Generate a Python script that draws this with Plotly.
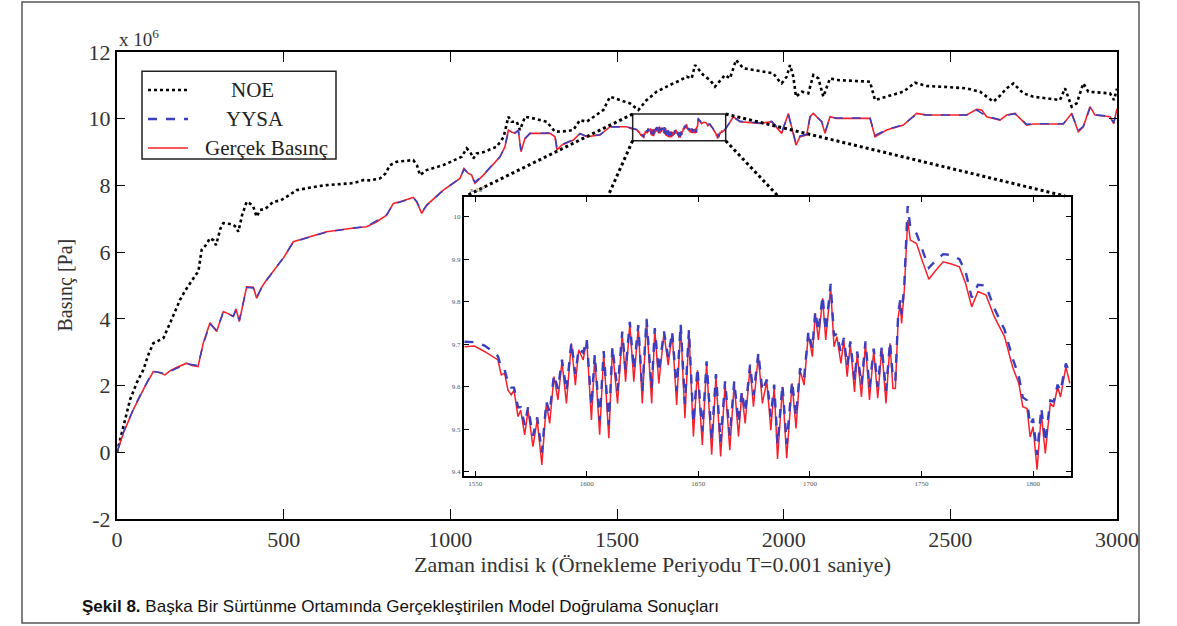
import plotly.graph_objects as go

# ---------------- data (pressure in units of 1e6 Pa) ----------------
noe_x = [0, 20, 39, 60, 79, 95, 109, 125, 139, 159, 175, 189, 205, 219, 235, 244, 254, 266, 279, 290,
         297, 310, 319, 335, 349, 357, 364, 375, 389, 400, 409, 419, 429, 445, 469, 490, 509, 539, 570,
         600, 629, 660, 699, 720, 739, 760, 789, 805, 819, 839, 860, 889, 900, 909, 929, 950, 979, 1010,
         1034, 1049, 1060, 1069, 1079, 1100, 1139, 1160, 1174, 1184, 1199, 1209, 1224, 1249, 1289, 1314,
         1340, 1369, 1389, 1409, 1439, 1459, 1479, 1509, 1539, 1564, 1589, 1619, 1645, 1669, 1690, 1709,
         1724, 1734, 1759, 1780, 1794, 1810, 1824, 1839, 1857, 1879, 1920, 1949, 1969, 1984, 1994, 2009,
         2019, 2029, 2037, 2054, 2074, 2089, 2104, 2119, 2139, 2159, 2210, 2259, 2274, 2309, 2359, 2394,
         2429, 2490, 2549, 2589, 2629, 2650, 2669, 2689, 2719, 2749, 2790, 2829, 2844, 2864, 2879, 2899,
         2914, 2950, 2979, 2991, 3000]
noe_y = [0, 0.8, 1.57, 2.1, 2.47, 2.95, 3.27, 3.35, 3.42, 3.87, 4.25, 4.57, 4.85, 5.07, 5.3, 5.42, 6.07,
         6.2, 6.42, 6.35, 6.21, 6.7, 6.87, 6.85, 6.82, 6.75, 6.61, 7.1, 7.51, 7.45, 7.36, 7.06, 7.26, 7.3,
         7.51, 7.55, 7.66, 7.86, 7.92, 7.97, 8.01, 8.03, 8.06, 8.1, 8.16, 8.15, 8.21, 8.35, 8.61, 8.71,
         8.73, 8.76, 8.6, 8.31, 8.46, 8.52, 8.61, 8.75, 8.86, 9.11, 9.0, 8.81, 8.96, 9.0, 9.16, 9.45,
         10.06, 9.91, 9.91, 9.66, 10.06, 10.01, 9.91, 9.61, 9.62, 9.66, 9.96, 9.91, 10.11, 10.26, 10.66,
         10.56, 10.46, 10.26, 10.56, 10.81, 10.95, 11.06, 11.15, 11.26, 11.21, 11.61, 11.31, 11.15, 10.96,
         11.15, 11.31, 11.21, 11.76, 11.51, 11.45, 11.41, 11.36, 11.16, 11.06, 11.26, 11.61, 11.26, 10.66,
         10.81, 10.76, 11.31, 11.21, 10.66, 11.21, 11.16, 11.13, 11.11, 10.56, 10.66, 10.81, 11.08, 10.98,
         10.95, 10.91, 10.81, 10.51, 10.7, 10.91, 11.06, 10.76, 10.66, 10.62, 10.56, 10.91, 10.36, 10.46,
         11.06, 10.81, 10.78, 10.76, 10.56, 10.9]

# Gercek Basinc, outside the zoomed window
gercek_x_a = [0, 20, 50, 80, 109, 125, 144, 160, 180, 209, 225, 243, 259, 279, 299, 319, 335, 349, 357,
              367, 389, 409, 419, 434, 449, 475, 499, 529, 579, 629, 699, 749, 779, 809, 829, 849, 889,
              899, 914, 929, 979, 1029, 1041, 1054, 1064, 1074, 1099, 1149, 1164, 1174, 1184, 1194, 1204,
              1212, 1224, 1239, 1299, 1314, 1320, 1334, 1369, 1389, 1409, 1449, 1479, 1529]
gercek_y_a = [0, 0.6, 1.3, 1.9, 2.42, 2.4, 2.32, 2.45, 2.55, 2.67, 2.6, 2.57, 3.28, 3.88, 3.62, 4.22,
              4.15, 4.07, 4.3, 3.92, 4.96, 4.95, 4.62, 4.95, 5.17, 5.5, 5.82, 6.31, 6.46, 6.61, 6.71,
              6.76, 6.91, 7.11, 7.46, 7.51, 7.64, 7.51, 7.16, 7.41, 7.86, 8.21, 8.51, 8.36, 8.31, 8.06,
              8.31, 8.86, 9.16, 9.66, 9.6, 9.56, 9.66, 9.01, 9.41, 9.56, 9.56, 9.46, 9.06, 9.21, 9.36,
              9.56, 9.46, 9.51, 9.76, 9.76]
gercek_x_b = [1824, 1849, 1869, 1929, 1964, 1994, 2014, 2029, 2037, 2049, 2069, 2079, 2089, 2114, 2124,
              2139, 2159, 2259, 2274, 2309, 2359, 2399, 2429, 2549, 2579, 2594, 2609, 2649, 2669, 2694,
              2729, 2749, 2839, 2864, 2884, 2899, 2919, 2934, 2979, 2990, 3000]
gercek_y_b = [9.66, 10.06, 9.91, 9.86, 9.91, 9.56, 10.16, 9.56, 9.21, 9.46, 9.51, 10.06, 10.16, 9.91,
              9.56, 10.06, 10.01, 10.01, 9.46, 9.66, 9.81, 10.16, 10.11, 10.11, 10.28, 10.26, 10.06,
              9.96, 10.11, 10.16, 9.81, 9.84, 9.84, 10.16, 9.61, 9.76, 10.36, 10.11, 10.06, 9.85, 10.3]

# YYSA, outside the zoomed window
yysa_x_a = [0, 20, 50, 80, 109, 144, 209, 243, 259, 279, 299, 319, 349, 357, 367, 389, 409, 419, 434,
            449, 499, 529, 579, 629, 699, 749, 809, 829, 849, 889, 899, 914, 929, 979, 1029, 1041, 1054,
            1074, 1099, 1149, 1164, 1174, 1194, 1204, 1212, 1224, 1239, 1299, 1314, 1320, 1334, 1369,
            1389, 1409, 1449, 1479, 1529]
yysa_y_a = [0, 0.62, 1.32, 1.92, 2.43, 2.36, 2.65, 2.6, 3.25, 3.85, 3.65, 4.2, 4.08, 4.27, 3.96, 4.94,
            4.93, 4.66, 4.93, 5.16, 5.83, 6.3, 6.46, 6.6, 6.71, 6.77, 7.12, 7.44, 7.5, 7.63, 7.52, 7.2,
            7.4, 7.86, 8.21, 8.48, 8.37, 8.1, 8.32, 8.86, 9.16, 9.62, 9.58, 9.64, 9.06, 9.4, 9.56,
            9.57, 9.48, 9.1, 9.22, 9.37, 9.55, 9.47, 9.52, 9.75, 9.76]
yysa_x_b = [1824, 1849, 1869, 1929, 1964, 1994, 2014, 2029, 2037, 2049, 2069, 2079, 2089, 2114, 2124,
            2139, 2159, 2259, 2274, 2309, 2359, 2399, 2429, 2549, 2579, 2609, 2649, 2669, 2694, 2729,
            2749, 2839, 2864, 2884, 2899, 2919, 2934, 2979, 2990, 3000]
yysa_y_b = [9.68, 10.04, 9.92, 9.87, 9.92, 9.6, 10.13, 9.6, 9.26, 9.48, 9.53, 10.04, 10.14, 9.92,
            9.6, 10.04, 10.02, 10.02, 9.5, 9.67, 9.82, 10.14, 10.11, 10.11, 10.26, 10.07, 9.97,
            10.1, 10.15, 9.83, 9.85, 9.85, 10.14, 9.65, 9.77, 10.33, 10.12, 10.07, 9.88, 10.28]

# Zoomed window (inset)
inset_x = [1545.2, 1549.7, 1554.2, 1558.7, 1560.2, 1561.7, 1563.2, 1564.7, 1566.2, 1567.4, 1569.2,
           1570.4, 1572.2, 1573.7, 1575.9, 1577.8, 1579.9, 1581.9, 1583.4, 1585.3, 1587.1, 1588.9,
           1590.9, 1593.1, 1594.9, 1596.4, 1598.4, 1600.0, 1602.1, 1603.6, 1605.8, 1607.6, 1609.9,
           1611.5, 1613.8, 1615.9, 1617.4, 1619.3, 1621.1, 1623.1, 1624.9, 1626.8, 1629.1, 1630.5,
           1632.3, 1634.6, 1636.5, 1638.3, 1640.3, 1642.1, 1644.0, 1645.8, 1647.8, 1649.6, 1651.8,
           1653.7, 1656.0, 1657.9, 1660.0, 1662.0, 1664.1, 1666.1, 1668.0, 1669.5, 1671.0, 1673.2,
           1674.7, 1676.9, 1678.7, 1680.7, 1682.5, 1684.0, 1685.5, 1687.7, 1689.6, 1692.0, 1693.8,
           1695.6, 1697.4, 1699.3, 1701.1, 1702.4, 1703.8, 1705.7, 1707.1, 1709.3, 1710.8, 1712.1,
           1713.9, 1715.2, 1716.7, 1718.1, 1720.0, 1721.2, 1723.1, 1724.9, 1726.7, 1728.6, 1730.4,
           1732.2, 1734.1, 1735.9, 1737.2, 1738.3, 1739.6, 1740.5, 1741.1, 1742.3, 1743.8, 1745.0,
           1747.8, 1750.5, 1753.3, 1756.0, 1759.7, 1763.4, 1767.0, 1769.8, 1772.5, 1775.3, 1778.9,
           1782.6, 1787.2, 1790.8, 1793.6, 1795.4, 1797.3, 1798.7, 1800.0, 1801.8, 1803.7, 1805.5,
           1807.7, 1809.2, 1811.0, 1812.3, 1814.7, 1816.5]
inset_gercek = [9.694, 9.696, 9.683, 9.667, 9.663, 9.628, 9.632, 9.592, 9.581, 9.592, 9.530, 9.545,
                9.487, 9.545, 9.459, 9.522, 9.416, 9.561, 9.514, 9.624, 9.569, 9.659, 9.561, 9.702,
                9.604, 9.687, 9.663, 9.710, 9.522, 9.671, 9.487, 9.679, 9.479, 9.690, 9.561, 9.726,
                9.612, 9.749, 9.612, 9.741, 9.561, 9.757, 9.561, 9.734, 9.608, 9.726, 9.651, 9.726,
                9.557, 9.745, 9.526, 9.730, 9.483, 9.639, 9.463, 9.655, 9.440, 9.624, 9.436, 9.608,
                9.451, 9.608, 9.483, 9.585, 9.514, 9.647, 9.553, 9.675, 9.561, 9.612, 9.498, 9.600,
                9.430, 9.600, 9.432, 9.608, 9.502, 9.639, 9.604, 9.725, 9.671, 9.773, 9.710, 9.808,
                9.710, 9.835, 9.694, 9.718, 9.655, 9.710, 9.624, 9.702, 9.588, 9.678, 9.576, 9.702,
                9.569, 9.686, 9.573, 9.690, 9.561, 9.702, 9.596, 9.596, 9.765, 9.796, 9.749, 9.827,
                9.992, 9.945, 9.937, 9.894, 9.853, 9.871, 9.894, 9.889, 9.882, 9.843, 9.788, 9.824,
                9.816, 9.765, 9.718, 9.647, 9.608, 9.553, 9.549, 9.482, 9.506, 9.405, 9.537, 9.443,
                9.561, 9.553, 9.600, 9.576, 9.647, 9.608]
inset_yysa = [9.706, 9.705, 9.697, 9.680, 9.672, 9.645, 9.640, 9.610, 9.598, 9.598, 9.552, 9.552,
              9.510, 9.552, 9.485, 9.528, 9.445, 9.565, 9.540, 9.628, 9.595, 9.664, 9.590, 9.705,
              9.630, 9.690, 9.680, 9.712, 9.555, 9.676, 9.520, 9.684, 9.510, 9.694, 9.590, 9.730,
              9.640, 9.753, 9.640, 9.745, 9.590, 9.760, 9.595, 9.738, 9.635, 9.730, 9.670, 9.730,
              9.590, 9.748, 9.560, 9.734, 9.515, 9.645, 9.495, 9.660, 9.475, 9.630, 9.470, 9.613,
              9.485, 9.613, 9.515, 9.590, 9.540, 9.652, 9.580, 9.680, 9.590, 9.617, 9.530, 9.605,
              9.465, 9.605, 9.465, 9.613, 9.530, 9.644, 9.620, 9.730, 9.690, 9.778, 9.730, 9.814,
              9.730, 9.842, 9.720, 9.725, 9.680, 9.715, 9.650, 9.707, 9.615, 9.683, 9.605, 9.707,
              9.598, 9.690, 9.600, 9.695, 9.590, 9.706, 9.620, 9.615, 9.775, 9.805, 9.770, 9.840,
              10.025, 9.975, 9.960, 9.920, 9.880, 9.895, 9.912, 9.910, 9.900, 9.870, 9.810, 9.840,
              9.838, 9.785, 9.735, 9.668, 9.625, 9.575, 9.568, 9.510, 9.525, 9.440, 9.550, 9.470,
              9.568, 9.565, 9.605, 9.590, 9.655, 9.630]

x_ticks = [0, 500, 1000, 1500, 2000, 2500, 3000]
y_ticks = [-2, 0, 2, 4, 6, 8, 10, 12]
y_ticklabels = ["-2", "0", "2", "4", "6", "8", "10", "12"]
inset_x_ticks = [1550, 1600, 1650, 1700, 1750, 1800]
inset_y_ticks = [9.4, 9.5, 9.6, 9.7, 9.8, 9.9, 10.0]
inset_y_labels = ["9.4", "9.5", "9.6", "9.7", "9.8", "9.9", "10"]

RED = "#f5222d"
BLUE = "#3b3fbf"
SERIF = "Liberation Serif"

gercek_x = gercek_x_a + inset_x + gercek_x_b
gercek_y = gercek_y_a + inset_gercek + gercek_y_b
yysa_x = yysa_x_a + inset_x + yysa_x_b
yysa_y = yysa_y_a + inset_yysa + yysa_y_b

fig = go.Figure()
fig.add_trace(go.Scatter(x=noe_x, y=noe_y, mode="lines", name="NOE",
                         line=dict(color="black", width=2.6, dash="dot")))
fig.add_trace(go.Scatter(x=gercek_x, y=gercek_y, mode="lines", name="Gerçek Basınç",
                         line=dict(color=RED, width=1.6)))
fig.add_trace(go.Scatter(x=yysa_x, y=yysa_y, mode="lines", name="YYSA",
                         line=dict(color=BLUE, width=1.6, dash="dash")))
# inset
fig.add_trace(go.Scatter(x=inset_x, y=inset_gercek, mode="lines", xaxis="x2", yaxis="y2",
                         line=dict(color=RED, width=1.5), showlegend=False))
fig.add_trace(go.Scatter(x=inset_x, y=inset_yysa, mode="lines", xaxis="x2", yaxis="y2",
                         line=dict(color=BLUE, width=2.4, dash="dash"), showlegend=False))

axis_common = dict(showline=True, linecolor="black", mirror="ticks", ticks="inside",
                   showgrid=False, zeroline=False, tickcolor="black")

fig.update_layout(
    width=1177, height=626,
    margin=dict(l=117, r=60, t=52, b=107),
    paper_bgcolor="white", plot_bgcolor="white",
    showlegend=False,
    font=dict(family=SERIF, color="#333"),
    xaxis=dict(range=[0, 3000], tickvals=x_ticks, ticklen=10, tickwidth=1.3, linewidth=2,
               tickfont=dict(size=22, family=SERIF, color="#333"), **axis_common),
    yaxis=dict(range=[-2, 12], tickvals=y_ticks, ticktext=y_ticklabels, ticklen=8, tickwidth=1.3,
               linewidth=2, tickfont=dict(size=22, family=SERIF, color="#333"), **axis_common),
    xaxis2=dict(domain=[0.347, 0.954], anchor="y2", range=[1545, 1817], tickvals=inset_x_ticks,
                ticklen=5, tickwidth=1, linewidth=2,
                tickfont=dict(size=7, family=SERIF, color="#555"), **axis_common),
    yaxis2=dict(domain=[0.092, 0.690], anchor="x2", range=[9.39, 10.047], tickvals=inset_y_ticks,
                ticktext=inset_y_labels, ticklen=5, tickwidth=1, linewidth=2,
                tickfont=dict(size=7, family=SERIF, color="#555"), **axis_common),
)

shapes = []
# outer frame
shapes.append(dict(type="rect", xref="paper", yref="paper", x0=-0.095, x1=1.022, y0=-0.2227, y1=1.107,
                   line=dict(color="#555", width=1.5)))
# zoom window rectangle
shapes.append(dict(type="rect", xref="x", yref="y", x0=1547, x1=1826, y0=9.34, y1=10.14,
                   line=dict(color="#222", width=1.5)))
# connector lines
for (xa, ya, xb, yb) in [(1547, 10.14, 1047, 7.683), (1547, 9.34, 1473, 7.683),
                         (1826, 9.34, 1983, 7.683), (1826, 10.14, 2844, 7.683)]:
    shapes.append(dict(type="line", xref="x", yref="y", x0=xa, y0=ya, x1=xb, y1=yb,
                       line=dict(color="black", width=3, dash="dot")))
# legend box
shapes.append(dict(type="rect", xref="paper", yref="paper", x0=0.025, x1=0.219, y0=0.771, y1=0.959,
                   fillcolor="white", line=dict(color="#222", width=1.5)))
legend_rows = [("NOE", "black", "dot", 2.6, 0.9186, 0.135),
               ("YYSA", BLUE, "dash", 2.4, 0.8565, 0.138),
               ("Gerçek Basınç", RED, "solid", 1.6, 0.7944, 0.149)]
annotations = []
for name, col, dash, w, yy, xc in legend_rows:
    shapes.append(dict(type="line", xref="paper", yref="paper", x0=0.031, x1=0.071, y0=yy, y1=yy,
                       line=dict(color=col, width=w, dash=dash)))
    annotations.append(dict(text=name, xref="paper", yref="paper", x=xc, y=yy, xanchor="center",
                            yanchor="middle", showarrow=False,
                            font=dict(family=SERIF, size=21, color="#222")))

annotations += [
    dict(text="x 10<sup>6</sup>", xref="paper", yref="paper", x=0.0, y=1.0, xanchor="left",
         yanchor="bottom", showarrow=False, font=dict(family=SERIF, size=19, color="#333")),
    dict(text="x 10<sup>6</sup>", xref="paper", yref="paper", x=0.351, y=0.692, xanchor="left",
         yanchor="bottom", showarrow=False, font=dict(family=SERIF, size=7, color="#555")),
    dict(text="Zaman indisi k (Örnekleme Periyodu T=0.001 saniye)", xref="paper", yref="paper",
         x=0.535, y=-0.0985, xanchor="center", yanchor="middle", showarrow=False,
         font=dict(family=SERIF, size=22, color="#333")),
    dict(text="Basınç [Pa]", xref="paper", yref="paper", x=-0.052, y=0.50, xanchor="center",
         yanchor="middle", textangle=-90, showarrow=False,
         font=dict(family=SERIF, size=20, color="#333")),
    dict(text="<b>Şekil 8.</b> Başka Bir Sürtünme Ortamında Gerçekleştirilen Model Doğrulama Sonuçları",
         xref="paper", yref="paper", x=-0.037, y=-0.1884, xanchor="left", yanchor="middle",
         showarrow=False, font=dict(family="Liberation Sans", size=17, color="#111")),
]

fig.update_layout(shapes=shapes, annotations=annotations)
fig.write_html("out.html")
